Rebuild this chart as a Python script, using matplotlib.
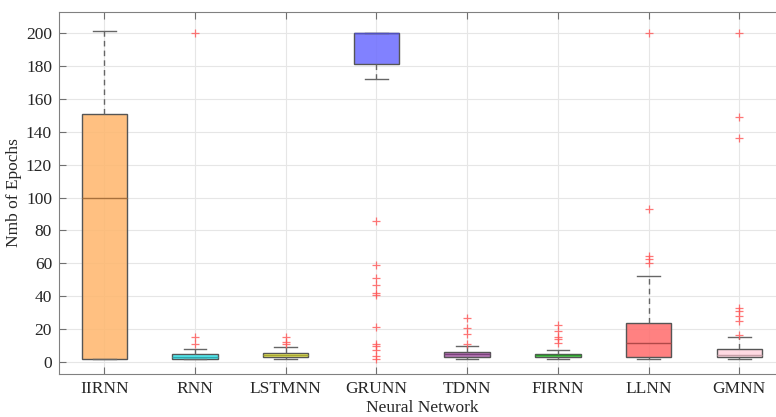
import numpy as np
import matplotlib.pyplot as plt
from matplotlib.colors import to_rgba

plt.rcParams['font.family'] = ['Liberation Serif', 'DejaVu Serif']

# 各网络的箱线图统计量
networks = ["IIRNN", "RNN", "LSTMNN", "GRUNN", "TDNN", "FIRNN", "LLNN", "GMNN"]
whislo = [2, 2, 2, 172, 2, 2, 2, 2]
q1 = [2, 2, 3, 181, 3, 3, 3, 3]
med = [100, 3, 4.5, 200, 4.7, 4, 11.5, 4]
q3 = [150.5, 5, 5.7, 200, 6.1, 5, 23.5, 8.1]
whishi = [201, 8, 9, 200, 10, 7, 52, 15]
fliers = [
    [],
    [11, 15, 200],
    [11, 12.3, 15.4],
    [86, 59, 51, 47, 42, 41, 21, 11, 10, 7, 3.6, 1.8],
    [27, 20.7, 17, 11],
    [22.5, 19, 15, 14, 11.3],
    [200, 93, 64.4, 62.4, 60],
    [200, 149, 136, 32.8, 30.8, 28, 25, 16.6],
]
face_colors = ["#FFB870", "#40ECF2", "#EAEA55", "#7070FF", "#B068B0", "#48D448", "#FF7070", "#FFD4DE"]
median_colors = ["#A8703C", "#30A8B0", "#A8A830", "#5050C0", "#7A407A", "#2E962E", "#B04848", "#C8A0A8"]

stats = []
for i in range(len(networks)):
    stats.append(dict(label=networks[i], whislo=whislo[i], q1=q1[i], med=med[i],
                      q3=q3[i], whishi=whishi[i], fliers=fliers[i]))

fig = plt.figure(figsize=(7.76, 4.17), dpi=100)
ax = fig.add_axes([59 / 776, 43 / 417, 725.6 / 776, 362 / 417])

bp = ax.bxp(stats, positions=np.arange(1, 9), widths=0.5, capwidths=0.25,
            patch_artist=True, showfliers=True,
            boxprops=dict(edgecolor="#555555", linewidth=1.0),
            whiskerprops=dict(color="#666666", linestyle=(0, (4, 3)), linewidth=1.0),
            capprops=dict(color="#666666", linewidth=1.0),
            flierprops=dict(marker="+", markeredgecolor="#FF5555", markersize=5.5,
                            markeredgewidth=0.9, linestyle="none", alpha=0.8))
for i, box in enumerate(bp["boxes"]):
    box.set_facecolor(to_rgba(face_colors[i], 0.88))
    bp["medians"][i].set_color(median_colors[i])
    bp["medians"][i].set_linewidth(1.0)

ax.set_xlim(0.5, 8.5)
ax.set_ylim(-7.3, 212.8)
ax.set_yticks(np.arange(0, 201, 20))
ax.set_xticklabels(networks)
ax.grid(True, color="#E6E6E6", linewidth=0.8)
ax.set_axisbelow(True)
ax.tick_params(direction="in", top=True, length=5, color="#707070", labelsize=12.5, labelcolor="#262626", pad=5)
for s in ["top", "bottom", "left"]:
    ax.spines[s].set_color("#808080")
ax.spines["right"].set_visible(False)
ax.set_xlabel("Neural Network", fontsize=12.5, color="#262626", labelpad=2)
ax.set_ylabel("Nmb of Epochs", fontsize=12.5, color="#262626", labelpad=3)

plt.savefig("out.png", dpi=100)
